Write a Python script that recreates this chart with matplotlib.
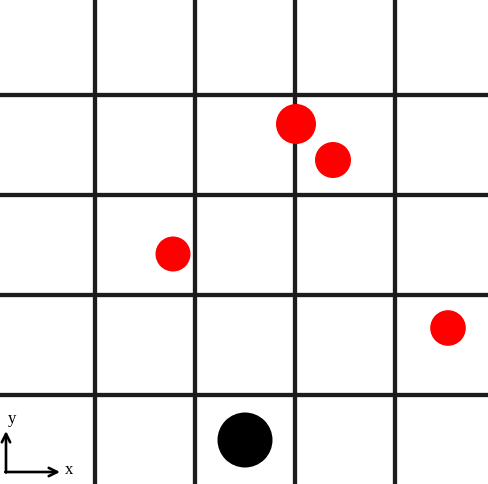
import matplotlib
matplotlib.use("Agg")
import matplotlib.pyplot as plt
from matplotlib.patches import Circle

# board in pixel units (y grows downward)
W, H = 489, 484
grid_x = [94.5, 194.5, 294.5, 394.5]
grid_y = [94.5, 194.5, 294.5, 394.5]

red_x = [296, 333, 173, 448]
red_y = [124, 160, 254, 328]
red_r = [20, 18, 17.5, 17.8]

black_x = [245]
black_y = [440]
black_r = [27.5]

fig = plt.figure(figsize=(W / 100, H / 100), dpi=100)
ax = fig.add_axes([0, 0, 1, 1])
ax.set_xlim(0, W)
ax.set_ylim(H, 0)
ax.set_aspect("equal")
ax.axis("off")

for gx in grid_x:
    ax.axvline(gx, color="#1c1c1c", lw=3.1, zorder=1)
for gy in grid_y:
    ax.axhline(gy, color="#1c1c1c", lw=3.1, zorder=1)

for x, y, r in zip(red_x, red_y, red_r):
    ax.add_patch(Circle((x, y), r, color="#ff0000", lw=0, zorder=3))
for x, y, r in zip(black_x, black_y, black_r):
    ax.add_patch(Circle((x, y), r, color="black", lw=0, zorder=3))

# little axes indicator
arrow = dict(arrowstyle="->", color="black", lw=1.9, mutation_scale=15,
             shrinkA=0, shrinkB=0)
ax.annotate("", xy=(6, 431), xytext=(6, 472.5), arrowprops=arrow)
ax.annotate("", xy=(60, 472), xytext=(5.2, 472), arrowprops=arrow)
ax.text(11.5, 419, "y", fontsize=12, family="Liberation Serif",
        ha="center", va="center")
ax.text(69, 470, "x", fontsize=12, family="Liberation Serif",
        ha="center", va="center")

fig.savefig("out.png", dpi=100)
